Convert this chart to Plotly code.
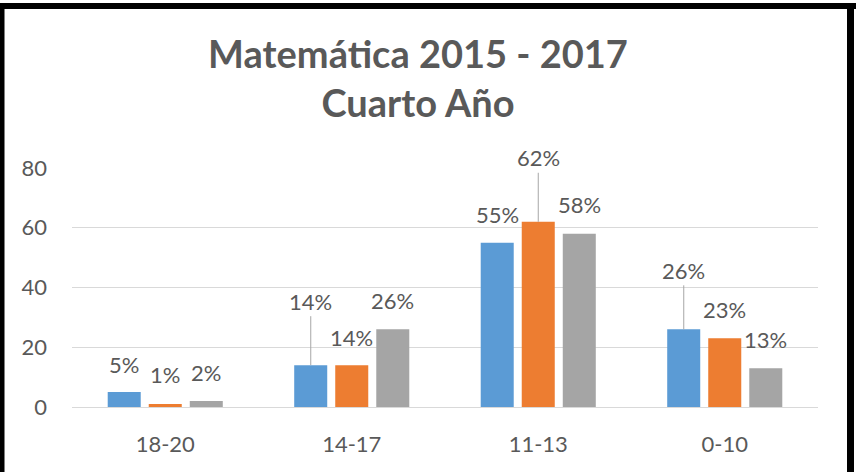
import plotly.graph_objects as go

categories = ["18-20", "14-17", "11-13", "0-10"]
series_names = ["2015", "2016", "2017"]
values_2015 = [5, 14, 55, 26]
values_2016 = [1, 14, 62, 23]
values_2017 = [2, 26, 58, 13]
label_texts_2015 = ["5%", "14%", "55%", "26%"]
label_texts_2016 = ["1%", "14%", "62%", "23%"]
label_texts_2017 = ["2%", "26%", "58%", "13%"]
y_ticks = [0, 20, 40, 60, 80]

# style: colours, label lift (px above bar top), bar offsets (px)
colors = ["#5B9BD5", "#ED7D31", "#A5A5A5"]
label_lift = [[28, 64, 28, 59], [30, 28, 64, 29], [29, 29, 29, 29]]
bar_shift = [-41, 0, 41]

FONT = "Lato"
TXT = "#595959"

series_values = [values_2015, values_2016, values_2017]
series_labels = [label_texts_2015, label_texts_2016, label_texts_2017]

fig = go.Figure()
for name, vals, col in zip(series_names, series_values, colors):
    fig.add_trace(go.Bar(x=categories, y=vals, name=name, marker_color=col,
                         marker_line_width=0, hoverinfo="skip"))

annotations = []
for s, (vals, labs) in enumerate(zip(series_values, series_labels)):
    for c, (cat, v, lab) in enumerate(zip(categories, vals, labs)):
        lift = label_lift[s][c]
        if lift > 40:
            annotations.append(dict(x=cat, y=v, xref="x", yref="y", text=lab,
                                    showarrow=True, arrowhead=0, arrowwidth=1,
                                    arrowcolor="#A6A6A6", ax=0, ay=-lift,
                                    standoff=0, xshift=bar_shift[s],
                                    font=dict(family=FONT, size=22, color=TXT)))
        else:
            annotations.append(dict(x=cat, y=v, xref="x", yref="y", text=lab,
                                    showarrow=False, xshift=bar_shift[s],
                                    yshift=lift, yanchor="middle",
                                    font=dict(family=FONT, size=22, color=TXT)))

# frame (pixel -> paper conversion based on plot area)
L, R, T, B = 72, 818, 168, 407
W, H = R - L, B - T
def px(x):
    return (x - L) / W
def py(y):
    return (B - y) / H

shapes = [
    dict(type="line", xref="paper", yref="paper", x0=px(0), x1=px(856),
         y0=py(6), y1=py(6), line=dict(color="black", width=6)),
    dict(type="line", xref="paper", yref="paper", x0=px(2), x1=px(2),
         y0=py(3), y1=py(480), line=dict(color="black", width=5)),
    dict(type="line", xref="paper", yref="paper", x0=px(850.5), x1=px(850.5),
         y0=py(3), y1=py(480), line=dict(color="black", width=7)),
]

fig.update_layout(
    width=861, height=472,
    margin=dict(l=L, r=861 - R, t=T, b=472 - B),
    paper_bgcolor="white", plot_bgcolor="white",
    showlegend=False,
    barmode="group", bargap=0.34, bargroupgap=0.195,
    title=dict(text="<b>Matemática 2015 - 2017<br>Cuarto Año</b>",
               x=px(418), xanchor="center", xref="paper",
               y=1 - 68 / 472, yanchor="middle",
               font=dict(family=FONT, size=38, color=TXT)),
    xaxis=dict(showgrid=False, showline=True, linecolor="#D9D9D9", linewidth=1,
               ticks="", tickfont=dict(family=FONT, size=22, color=TXT),
               ticklabelstandoff=18),
    yaxis=dict(range=[0, 80], tickvals=y_ticks, showgrid=True,
               gridcolor="#D9D9D9", gridwidth=1, zeroline=False, showline=False,
               tickfont=dict(family=FONT, size=22, color=TXT),
               ticklabelstandoff=24),
    annotations=annotations,
    shapes=shapes,
)

fig.write_html("out.html")
